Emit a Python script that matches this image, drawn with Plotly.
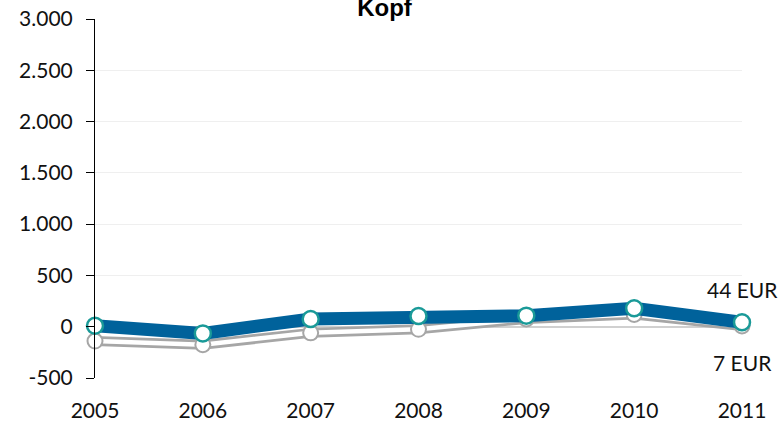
import plotly.graph_objects as go

# Years on the category axis
years = [2005, 2006, 2007, 2008, 2009, 2010, 2011]

# Values per head in EUR
main_series = [10, -65, 75, 105, 108, 180, 44]
comparison_series = [-140, -175, -60, -25, 75, 120, 7]

# Y axis ticks
y_ticks = [-500, 0, 500, 1000, 1500, 2000, 2500, 3000]
y_tick_labels = [f"{v:,}".replace(",", ".") for v in y_ticks]

BLUE = "#00629b"
TEAL = "#1a9a98"
GREY = "#a6a6a6"
FONT = "Lato"

fig = go.Figure()

# Comparison series drawn as a double line: wide grey stroke with a white core
fig.add_trace(go.Scatter(
    x=years, y=comparison_series, mode="lines",
    line=dict(color=GREY, width=10),
    cliponaxis=False, hoverinfo="skip", showlegend=False,
))
fig.add_trace(go.Scatter(
    x=years, y=comparison_series, mode="lines+markers",
    line=dict(color="white", width=4.5),
    marker=dict(size=15, color="white", line=dict(color=GREY, width=2)),
    cliponaxis=False, showlegend=False,
))

# Main series
fig.add_trace(go.Scatter(
    x=years, y=main_series, mode="lines+markers",
    line=dict(color=BLUE, width=13),
    marker=dict(size=16, color="white", line=dict(color=TEAL, width=2.5)),
    cliponaxis=False, showlegend=False,
))

# End-of-line value labels
fig.add_annotation(
    x=years[-1], y=main_series[-1], text=f"{main_series[-1]} EUR",
    showarrow=False, xanchor="center", yanchor="middle", yshift=33,
    font=dict(family=FONT, size=21, color="#111111"),
)
fig.add_annotation(
    x=years[-1], y=comparison_series[-1], text=f"{comparison_series[-1]} EUR",
    showarrow=False, xanchor="center", yanchor="middle", yshift=-36,
    font=dict(family=FONT, size=21, color="#111111"),
)

fig.update_layout(
    width=780, height=421, autosize=False,
    margin=dict(l=95, r=38, t=19, b=43, autoexpand=False),
    paper_bgcolor="white", plot_bgcolor="white",
    font=dict(family=FONT, size=21, color="#111111"),
    title=dict(
        text="<b>Kopf</b>", x=384.5 / 780, xanchor="center",
        y=1 - 8 / 421, yanchor="middle", yref="container",
        font=dict(family="Liberation Sans", size=24, color="#000000"),
    ),
    xaxis=dict(
        range=[2005, 2011], tickmode="array", tickvals=years,
        ticktext=[str(y) for y in years],
        showgrid=False, zeroline=False, showline=False, ticks="",
        automargin=False, ticklabelstandoff=18,
        tickfont=dict(family=FONT, size=21, color="#111111"),
    ),
    yaxis=dict(
        range=[-500, 3000], tickmode="array", tickvals=y_ticks,
        ticktext=y_tick_labels,
        showgrid=True, gridcolor="#efefef", gridwidth=1,
        zeroline=True, zerolinecolor="#d0d0d0", zerolinewidth=1.5,
        showline=True, linecolor="#000000", linewidth=1,
        ticks="outside", ticklen=8, tickcolor="#000000", tickwidth=1,
        automargin=False, ticklabelstandoff=9,
        tickfont=dict(family=FONT, size=21, color="#111111"),
    ),
)

fig.write_html("out.html")
